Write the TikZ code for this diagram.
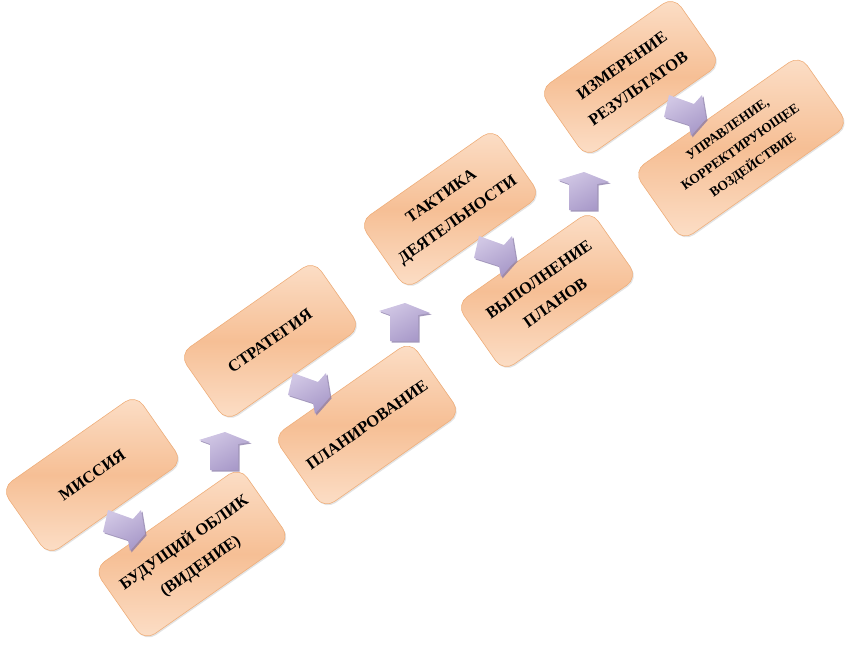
\documentclass[tikz,border=0pt]{standalone}
\usepackage{fontspec}
\setmainfont{Liberation Serif}
\usetikzlibrary{shadows}
\definecolor{boxlight}{HTML}{FCDFC8}
\definecolor{boxdark}{HTML}{F6BF95}
\definecolor{boxline}{HTML}{EFAE7A}
\definecolor{arrlight}{HTML}{D0C6E4}
\definecolor{arrdark}{HTML}{A899C9}
\definecolor{arrshadow}{HTML}{8576A6}
\tikzset{
  stepcard/.style={rounded corners=13bp, rotate=35, draw=boxline, line width=0.6bp,
    top color=boxlight, bottom color=boxlight, middle color=boxdark,
    align=center, inner sep=3bp, text=black,
    font=\bfseries\fontsize{16.5bp}{28.5bp}\selectfont,
    drop shadow={opacity=0.22, shadow xshift=1.2bp, shadow yshift=-1.4bp},
    minimum width=164bp, minimum height=82bp},
  smalltext/.style={font=\bfseries\fontsize{13.5bp}{22bp}\selectfont},
  arrbody/.style={top color=arrlight, bottom color=arrdark, shading angle=30},
  arrshade/.style={fill=arrshadow, opacity=0.75},
  rarrow/.pic={
    \fill[arrshade] (-14.5,-19.5) -- (10.5,-10.5) -- (18.5,-19.5) -- (22.5,4.5) -- (7.5,21.5) -- (5.5,10.5) -- (-19.5,2.5) -- cycle;
    \shade[arrbody] (-16,-21) -- (9,-12) -- (17,-21) -- (21,3) -- (6,20) -- (4,9) -- (-21,1) -- cycle;
  },
  uarrow/.pic={
    \fill[arrshade] (-13.5,20.5) -- (-13.5,-5.5) -- (-24.5,-9.5) -- (1.5,-17.5) -- (26.5,-7.5) -- (14.5,-5.5) -- (14.5,20.5) -- cycle;
    \shade[arrbody] (-15,19) -- (-15,-7) -- (-26,-11) -- (0,-19) -- (25,-9) -- (13,-7) -- (13,19) -- cycle;
  }
}
\begin{document}
\begin{tikzpicture}[x=1bp,y=-1bp]
\useasboundingbox (0,0) rectangle (851,656);
% boxes
\node[stepcard] (b1) at (92,475) {МИССИЯ};
\node[stepcard, minimum width=178bp, minimum height=88bp] (b2) at (192,554) {БУДУЩИЙ ОБЛИК\\(ВИДЕНИЕ)};
\node[stepcard] (b3) at (270,341) {СТРАТЕГИЯ};
\node[stepcard, minimum width=167bp, minimum height=88bp] (b4) at (367,425) {ПЛАНИРОВАНИЕ};
\node[stepcard] (b5) at (450,209) {ТАКТИКА\\ДЕЯТЕЛЬНОСТИ};
\node[stepcard] (b6) at (547,291) {ВЫПОЛНЕНИЕ\\ПЛАНОВ};
\node[stepcard] (b7) at (630,77) {ИЗМЕРЕНИЕ\\РЕЗУЛЬТАТОВ};
\node[stepcard, smalltext, minimum width=203bp, minimum height=85bp] (b8) at (741,148) {УПРАВЛЕНИЕ,\\КОРРЕКТИРУЮЩЕЕ\\ВОЗДЕЙСТВИЕ};
% block arrows
\pic (r12) at (124,531) {rarrow};
\pic (r34) at (309,394) {rarrow};
\pic (r56) at (495,257) {rarrow};
\pic (r78) at (685,116) {rarrow};
\pic (u23) at (225,451) {uarrow};
\pic (u45) at (405,322) {uarrow};
\pic (u67) at (584,191) {uarrow};
\end{tikzpicture}
\end{document}
